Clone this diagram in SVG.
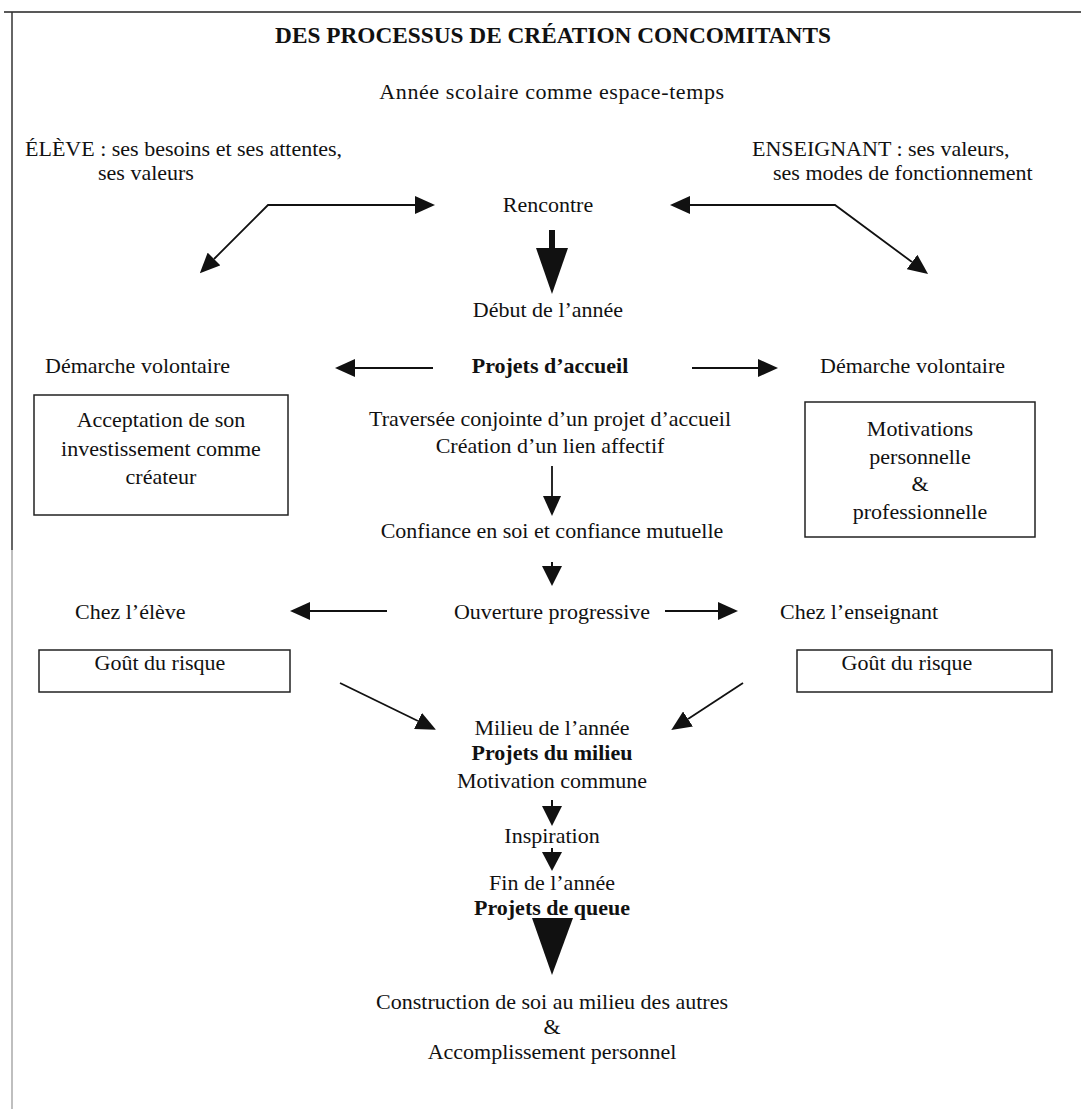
<svg xmlns="http://www.w3.org/2000/svg" width="1081" height="1109" viewBox="0 0 1081 1109">
<defs>
<style>
text{font-family:"Liberation Serif","Times New Roman",serif;font-size:22px;fill:#111}
.b{font-weight:bold}
.c{text-anchor:middle}
.box{fill:none;stroke:#222;stroke-width:1.5}
.ln{fill:none;stroke:#111;stroke-width:1.8}
.hd{fill:#111}
</style>
<marker id="ah" viewBox="0 0 20 18" refX="0" refY="9" markerWidth="20" markerHeight="18" markerUnits="userSpaceOnUse" orient="auto-start-reverse"><path d="M0,0 L20,9 L0,18 Z" fill="#111"/></marker>
</defs>
<rect width="1081" height="1109" fill="#fff"/>
<g id="frame">
<line x1="4" y1="12" x2="1081" y2="12" stroke="#222" stroke-width="1.5"/>
<line x1="12" y1="12" x2="12" y2="550" stroke="#333" stroke-width="1.5"/>
<line x1="12" y1="550" x2="12" y2="1109" stroke="#aaa" stroke-width="1.5"/>
</g>
<g id="title"><text class="b c" x="553" y="43" style="font-size:23.3px">DES PROCESSUS DE CRÉATION CONCOMITANTS</text></g>
<g id="annee"><text class="c" x="552" y="99" style="letter-spacing:0.6px">Année scolaire comme espace-temps</text></g>
<g id="eleve"><text x="25" y="156">ÉLÈVE : ses besoins et ses attentes,</text><text x="98" y="180">ses valeurs</text></g>
<g id="enseignant"><text x="752" y="156">ENSEIGNANT : ses valeurs,</text><text x="773" y="180">ses modes de fonctionnement</text></g>
<g id="rencontre"><text class="c" x="548" y="212">Rencontre</text></g>
<g id="debut"><text class="c" x="548" y="317">Début de l’année</text></g>
<g id="demarche-g"><text x="45" y="373">Démarche volontaire</text></g>
<g id="projets-accueil"><text class="b c" x="550" y="373">Projets d’accueil</text></g>
<g id="demarche-d"><text x="820" y="373">Démarche volontaire</text></g>
<g id="acceptation"><rect class="box" x="34" y="395" width="254" height="120"/>
<text class="c" x="161" y="427">Acceptation de son</text><text class="c" x="161" y="456">investissement comme</text><text class="c" x="161" y="484">créateur</text></g>
<g id="traversee"><text class="c" x="550" y="426">Traversée conjointe d’un projet d’accueil</text><text class="c" x="550" y="453">Création d’un lien affectif</text></g>
<g id="motivations"><rect class="box" x="805" y="402" width="230" height="135"/>
<text class="c" x="920" y="436">Motivations</text><text class="c" x="920" y="464">personnelle</text><text class="c" x="920" y="491">&amp;</text><text class="c" x="920" y="519">professionnelle</text></g>
<g id="confiance"><text class="c" x="552" y="538">Confiance en soi et confiance mutuelle</text></g>
<g id="chez-eleve"><text x="75" y="619">Chez l’élève</text></g>
<g id="ouverture"><text class="c" x="552" y="619">Ouverture progressive</text></g>
<g id="chez-enseignant"><text x="780" y="619">Chez l’enseignant</text></g>
<g id="gout-g"><rect class="box" x="39" y="650" width="251" height="42"/><text class="c" x="160" y="670">Goût du risque</text></g>
<g id="gout-d"><rect class="box" x="797" y="650" width="255" height="42"/><text class="c" x="907" y="670">Goût du risque</text></g>
<g id="milieu"><text class="c" x="552" y="735">Milieu de l’année</text><text class="b c" x="552" y="760">Projets du milieu</text><text class="c" x="552" y="788">Motivation commune</text></g>
<g id="inspiration"><text class="c" x="552" y="843">Inspiration</text></g>
<g id="fin"><text class="c" x="552" y="890">Fin de l’année</text><text class="b c" x="552" y="915">Projets de queue</text></g>
<g id="construction"><text class="c" x="552" y="1009">Construction de soi au milieu des autres</text><text class="c" x="552" y="1034">&amp;</text><text class="c" x="552" y="1059">Accomplissement personnel</text></g>
<g id="connectors">
<path class="ln" d="M415,205 L268,205 L214,259" marker-start="url(#ah)" marker-end="url(#ah)"/>
<path class="ln" d="M690,205 L835,205 L912,262" marker-start="url(#ah)" marker-end="url(#ah)"/>
<rect class="hd" x="549" y="230" width="6" height="20"/>
<polygon class="hd" points="536,248 568,248 552,294"/>
<path class="ln" d="M433,368 L355,368" marker-end="url(#ah)"/>
<path class="ln" d="M692,368 L758,368" marker-end="url(#ah)"/>
<path class="ln" d="M552,466 L552,497"/>
<polygon class="hd" points="543,496 561,496 552,516"/>
<rect class="hd" x="551" y="562" width="2" height="5"/>
<polygon class="hd" points="542,566 562,566 552,586"/>
<path class="ln" d="M387,611 L310,611" marker-end="url(#ah)"/>
<path class="ln" d="M665,611 L718,611" marker-end="url(#ah)"/>
<path class="ln" d="M340,683 L418,721" marker-end="url(#ah)"/>
<path class="ln" d="M743,683 L688,719" marker-end="url(#ah)"/>
<rect class="hd" x="551" y="800" width="2" height="7"/>
<polygon class="hd" points="542,806 562,806 552,826"/>
<rect class="hd" x="551" y="848" width="2" height="5"/>
<polygon class="hd" points="542,852 562,852 552,871"/>
<polygon class="hd" points="532,918 573,918 552,975"/>
</g>
</svg>
